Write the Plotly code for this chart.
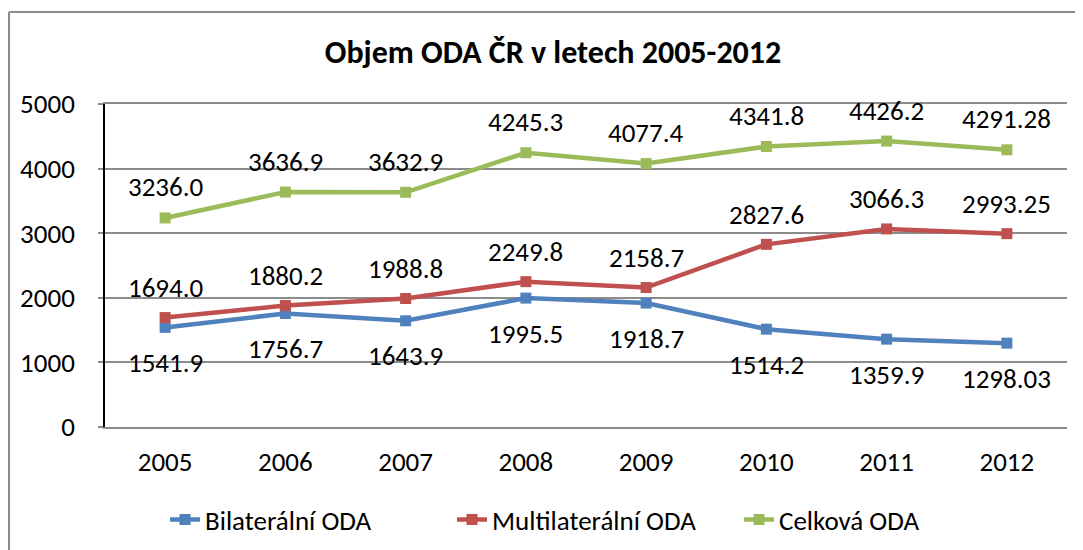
import plotly.graph_objects as go

years = ["2005", "2006", "2007", "2008", "2009", "2010", "2011", "2012"]
bilateral = [1541.9, 1756.7, 1643.9, 1995.5, 1918.7, 1514.2, 1359.9, 1298.03]
multilateral = [1694.0, 1880.2, 1988.8, 2249.8, 2158.7, 2827.6, 3066.3, 2993.25]
total = [3236.0, 3636.9, 3632.9, 4245.3, 4077.4, 4341.8, 4426.2, 4291.28]
bilateral_labels = ["1541.9", "1756.7", "1643.9", "1995.5", "1918.7", "1514.2", "1359.9", "1298.03"]
multilateral_labels = ["1694.0", "1880.2", "1988.8", "2249.8", "2158.7", "2827.6", "3066.3", "2993.25"]
total_labels = ["3236.0", "3636.9", "3632.9", "4245.3", "4077.4", "4341.8", "4426.2", "4291.28"]
y_ticks = [0, 1000, 2000, 3000, 4000, 5000]

FONT = "Carlito, Calibri, Lato, sans-serif"
FS = 27
OFF = 8  # page body margin
W, H = 1083 - OFF, 550 - OFF
# plot area in screenshot pixels: x 105..1067, y 104..427
L = 105 - OFF
T = 104 - OFF
PW = 962
PH = 323
R = W - L - PW
B = H - T - PH


def px(xi):
    return (xi - OFF - L) / PW


def py(yi):
    return (T + PH - (yi - OFF)) / PH


series = [
    ("Bilaterální ODA", bilateral, bilateral_labels, "#4F81BD", -35),
    ("Multilaterální ODA", multilateral, multilateral_labels, "#C0504D", 30),
    ("Celková ODA", total, total_labels, "#9BBB59", 31),
]

fig = go.Figure()
annotations = []
for name, vals, labels, color, shift in series:
    fig.add_trace(go.Scatter(
        x=years, y=vals, name=name, mode="lines+markers",
        line=dict(color=color, width=4.5),
        marker=dict(symbol="square", size=11, color=color),
    ))
    for i, (yv, lab) in enumerate(zip(vals, labels)):
        annotations.append(dict(
            x=i, y=yv, xref="x", yref="y", text=lab, showarrow=False,
            yshift=shift, font=dict(family=FONT, size=FS, color="#000000"),
            xanchor="center", yanchor="middle",
        ))

shapes = [
    dict(type="line", xref="paper", yref="paper",
         x0=px(9), x1=px(9), y0=py(12), y1=py(600),
         line=dict(color="#8c8c8c", width=2)),
    dict(type="line", xref="paper", yref="paper",
         x0=px(9), x1=px(1100), y0=py(12), y1=py(12),
         line=dict(color="#8c8c8c", width=2)),
]

fig.update_layout(
    width=W, height=H,
    margin=dict(l=L, r=R, t=T, b=B, autoexpand=False),
    paper_bgcolor="white", plot_bgcolor="white",
    title=dict(text="<b>Objem ODA ČR v letech 2005-2012</b>",
               x=(553 - OFF) / W, xref="container", xanchor="center",
               y=1 - (52 - OFF) / H, yref="container", yanchor="middle",
               font=dict(family=FONT, size=32, color="#000000")),
    legend=dict(orientation="h", x=px(165), xanchor="left",
                y=py(520), yanchor="middle", entrywidth=242,
                font=dict(family=FONT, size=FS, color="#000000")),
    annotations=annotations,
    shapes=shapes,
    xaxis=dict(type="category", range=[-0.5, 7.5], showgrid=False,
               showline=True, mirror=True, linecolor="#8c8c8c", linewidth=1.5,
               ticks="", ticklabelstandoff=10,
               tickfont=dict(family=FONT, size=FS, color="#000000")),
    yaxis=dict(range=[0, 5000], tickvals=y_ticks, showgrid=True,
               gridcolor="#8c8c8c", gridwidth=1.5, zeroline=False,
               showline=True, linecolor="#000000", linewidth=1.5,
               ticks="outside", ticklen=5, tickcolor="#8c8c8c", tickwidth=1.5,
               ticklabelstandoff=18,
               tickfont=dict(family=FONT, size=FS, color="#000000")),
)

fig.write_html("out.html")
